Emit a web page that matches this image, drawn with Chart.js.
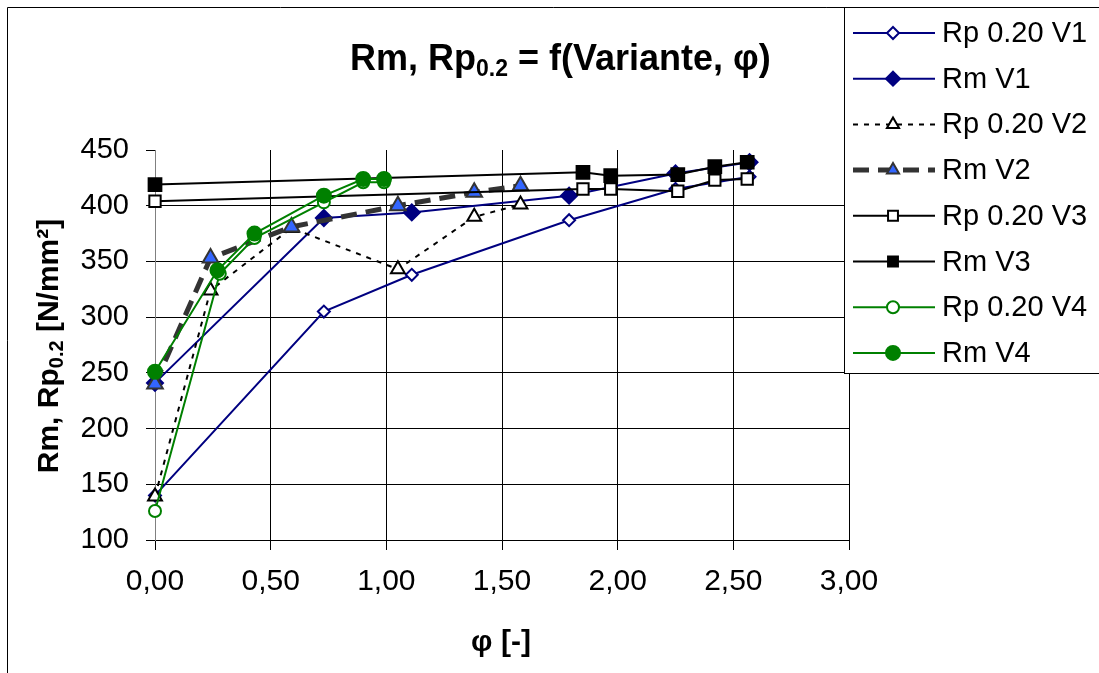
<!DOCTYPE html>
<html>
<head>
<meta charset="utf-8">
<script src="https://cdn.jsdelivr.net/npm/chart.js@4.4.1/dist/chart.umd.min.js"></script>
<style>
  body { margin: 0; background: #fff; }
  #wrap { width: 1099px; height: 673px; }
</style>
</head>
<body>
<div id="wrap"><canvas id="myChart" width="1099" height="673"></canvas></div>
<script>
const seriesNames = ["Rp 0.20 V1", "Rm V1", "Rp 0.20 V2", "Rm V2", "Rp 0.20 V3", "Rm V3", "Rp 0.20 V4", "Rm V4"];

const phiV1 = [0, 0.73, 1.11, 1.79, 2.25, 2.57];
const rpV1 = [140, 305, 338, 387, 415, 426];
const rmV1 = [241, 389, 394, 409, 429, 439];

const phiV2 = [0, 0.24, 0.59, 1.05, 1.38, 1.58];
const rpV2 = [139, 324, 380, 343, 390, 401];
const rmV2 = [240, 353, 381, 400, 412, 418];

const phiV3 = [0, 1.85, 1.97, 2.26, 2.42, 2.56];
const rpV3 = [404, 415, 415, 413, 423, 424];
const rmV3 = [419, 430, 427, 428, 435, 439];

const phiRpV4 = [0, 0.28, 0.43, 0.73, 0.90, 0.99];
const rpV4 = [126, 339, 371, 403, 421, 421];
const phiRmV4 = [0, 0.27, 0.43, 0.73, 0.90, 0.99];
const rmV4 = [251, 342, 375, 409, 424, 424];

const xTicks = [0, 0.5, 1, 1.5, 2, 2.5, 3];
const yTicks = [100, 150, 200, 250, 300, 350, 400, 450];

const toPoints = (xs, ys) => xs.map((x, i) => ({ x: x, y: ys[i] }));

const NAVY = "#000080";
const GREEN = "#008000";
const FONT = "'Liberation Sans', Arial, sans-serif";

const styles = [
  { color: NAVY, width: 2, dash: [], point: "rectRot", radius: 6, fill: "#fff", pColor: NAVY },
  { color: NAVY, width: 2, dash: [], point: "rectRot", radius: 8, fill: NAVY, pColor: NAVY },
  { color: "#000", width: 2, dash: [5, 6], point: "triangle", radius: 8, fill: "#fff", pColor: "#000" },
  { color: "#333333", width: 5, dash: [16, 9], point: "triangle", radius: 9, fill: "#3366FF", pColor: "#333333" },
  { color: "#000", width: 2, dash: [], point: "rect", radius: 8, fill: "#fff", pColor: "#000" },
  { color: "#000", width: 2, dash: [], point: "rect", radius: 9, fill: "#000", pColor: "#000" },
  { color: GREEN, width: 2, dash: [], point: "circle", radius: 6, fill: "#fff", pColor: GREEN },
  { color: GREEN, width: 2, dash: [], point: "circle", radius: 7, fill: GREEN, pColor: GREEN },
];

const seriesData = [
  toPoints(phiV1, rpV1), toPoints(phiV1, rmV1),
  toPoints(phiV2, rpV2), toPoints(phiV2, rmV2),
  toPoints(phiV3, rpV3), toPoints(phiV3, rmV3),
  toPoints(phiRpV4, rpV4), toPoints(phiRmV4, rmV4),
];

const datasets = seriesData.map((pts, i) => {
  const s = styles[i];
  return {
    label: seriesNames[i],
    data: pts,
    showLine: true,
    tension: 0,
    borderColor: s.color,
    borderWidth: s.width,
    borderDash: s.dash,
    pointStyle: s.point,
    pointRadius: s.radius,
    pointHoverRadius: s.radius,
    pointBackgroundColor: s.fill,
    pointBorderColor: s.pColor,
    pointBorderWidth: 2,
    order: seriesNames.length - i,
    clip: false,
  };
});

// simple marker painter for the legend
const drawMarker = (ctx, style, x, y) => {
  const r = style.radius;
  ctx.save();
  ctx.setLineDash([]);
  ctx.lineWidth = 2;
  ctx.strokeStyle = style.pColor;
  ctx.fillStyle = style.fill;
  ctx.beginPath();
  if (style.point === "rectRot") {
    ctx.moveTo(x, y - r); ctx.lineTo(x + r, y); ctx.lineTo(x, y + r); ctx.lineTo(x - r, y); ctx.closePath();
  } else if (style.point === "triangle") {
    ctx.moveTo(x, y - r); ctx.lineTo(x + r * 0.866, y + r * 0.5); ctx.lineTo(x - r * 0.866, y + r * 0.5); ctx.closePath();
  } else if (style.point === "rect") {
    const h = r * Math.SQRT1_2;
    ctx.rect(x - h, y - h, 2 * h, 2 * h);
  } else {
    ctx.arc(x, y, r, 0, Math.PI * 2);
  }
  ctx.fill();
  ctx.stroke();
  ctx.restore();
};

const decorations = {
  id: "decorations",
  beforeDraw(chart) {
    const ctx = chart.ctx;
    ctx.save();
    ctx.fillStyle = "#fff";
    ctx.fillRect(0, 0, chart.width, chart.height);
    ctx.restore();
  },
  afterDraw(chart) {
    const ctx = chart.ctx;
    ctx.save();
    // outer chart border
    ctx.strokeStyle = "#000";
    ctx.lineWidth = 1;
    ctx.beginPath();
    ctx.moveTo(7.5, 673); ctx.lineTo(7.5, 7.5); ctx.lineTo(1099, 7.5);
    ctx.stroke();

    // title
    ctx.fillStyle = "#000";
    ctx.textBaseline = "alphabetic";
    ctx.textAlign = "left";
    let x = 350;
    const by = 70;
    ctx.font = "bold 36px " + FONT;
    ctx.fillText("Rm, Rp", x, by);
    x += ctx.measureText("Rm, Rp").width;
    ctx.font = "bold 23px " + FONT;
    ctx.fillText("0.2", x, by + 6);
    x += ctx.measureText("0.2").width;
    ctx.font = "bold 36px " + FONT;
    ctx.fillText(" = f(Variante, φ)", x, by);

    // y axis title
    ctx.save();
    ctx.translate(58, 346);
    ctx.rotate(-Math.PI / 2);
    ctx.font = "bold 30px " + FONT;
    const a = "Rm, Rp", b = "0.2", c = " [N/mm²]";
    const wa = ctx.measureText(a).width, wc = ctx.measureText(c).width;
    ctx.font = "bold 20px " + FONT;
    const wb = ctx.measureText(b).width;
    let tx = -(wa + wb + wc) / 2;
    ctx.font = "bold 30px " + FONT;
    ctx.fillText(a, tx, 0);
    tx += wa;
    ctx.font = "bold 20px " + FONT;
    ctx.fillText(b, tx, 5);
    tx += wb;
    ctx.font = "bold 30px " + FONT;
    ctx.fillText(c, tx, 0);
    ctx.restore();

    // x axis title
    ctx.font = "bold 30px " + FONT;
    ctx.textAlign = "center";
    ctx.fillText("φ [-]", 501, 651);

    // legend
    ctx.fillStyle = "#fff";
    ctx.fillRect(844, 7, 260, 366);
    ctx.strokeStyle = "#000";
    ctx.lineWidth = 1;
    ctx.strokeRect(844.5, 7.5, 300, 366);
    ctx.textAlign = "left";
    ctx.textBaseline = "middle";
    ctx.font = "29px " + FONT;
    seriesNames.forEach((name, i) => {
      const s = styles[i];
      const y = 33 + i * 45.7;
      ctx.save();
      ctx.strokeStyle = s.color;
      ctx.lineWidth = s.width;
      ctx.setLineDash(s.dash);
      ctx.beginPath();
      ctx.moveTo(853, y); ctx.lineTo(935, y);
      ctx.stroke();
      ctx.restore();
      drawMarker(ctx, { ...s, radius: Math.min(s.radius, 7) }, 893, y);
      ctx.fillStyle = "#000";
      ctx.fillText(name, 942, y + 1);
    });
    ctx.restore();
  },
};

const chartCanvas = document.querySelector("#myChart");
new Chart(chartCanvas, {
  type: "scatter",
  data: { datasets: datasets },
  options: {
    responsive: false,
    animation: false,
    events: [],
    layout: { padding: { top: 150, right: 250, left: 0, bottom: 0 } },
    plugins: { legend: { display: false }, title: { display: false }, tooltip: { enabled: false } },
    scales: {
      x: {
        type: "linear",
        min: 0,
        max: 3,
        afterBuildTicks: (scale) => { scale.ticks = xTicks.map((v) => ({ value: v })); },
        afterFit: (scale) => { scale.height = 133; },
        ticks: {
          color: "#000",
          font: { family: FONT, size: 30 },
          padding: 14,
          maxRotation: 0,
          callback: (v) => v.toFixed(2).replace(".", ","),
        },
        grid: {
          color: (c) => (c.tick && c.tick.value === 0 ? "#808080" : "#000"),
          tickColor: "#000",
          tickLength: 10,
          lineWidth: 1,
        },
        border: { color: "#000", width: 1 },
      },
      y: {
        type: "linear",
        min: 100,
        max: 450,
        afterBuildTicks: (scale) => { scale.ticks = yTicks.map((v) => ({ value: v })); },
        afterFit: (scale) => { scale.width = 155; },
        ticks: {
          color: "#000",
          font: { family: FONT, size: 29 },
          padding: 17,
        },
        grid: {
          color: (c) => (c.tick && c.tick.value === 450 ? "rgba(0,0,0,0)" : "#000"),
          tickColor: "#000",
          tickLength: 9,
          lineWidth: 1,
        },
        border: { color: "#808080", width: 1 },
      },
    },
  },
  plugins: [decorations],
});
</script>
</body>
</html>
